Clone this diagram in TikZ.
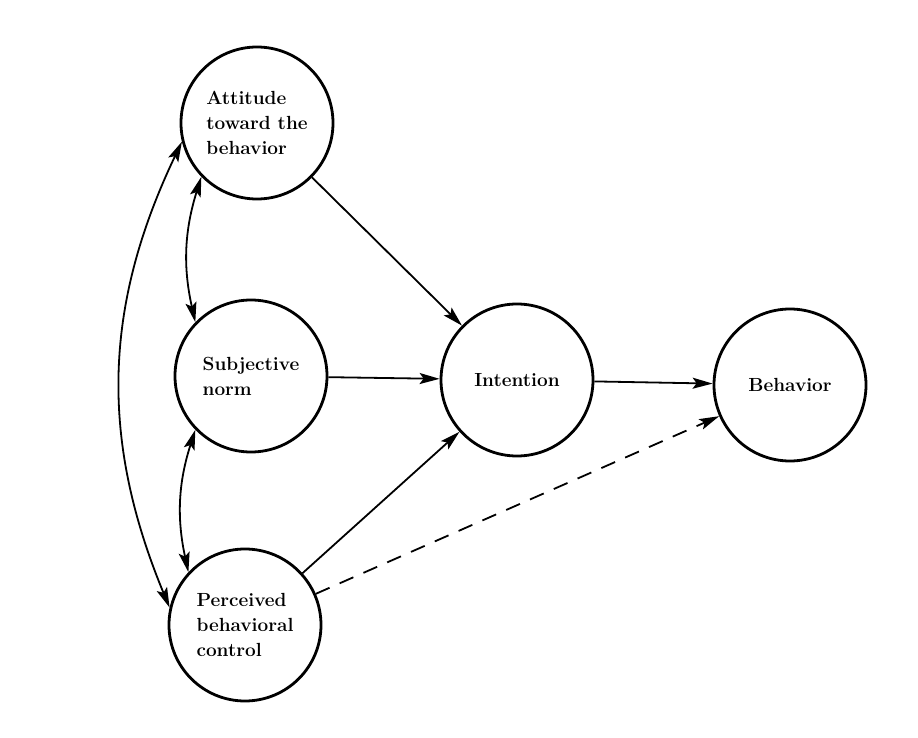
\documentclass[tikz,border=0pt]{standalone}
\usepackage{tikz}
\usetikzlibrary{arrows.meta}

\begin{document}
\begin{tikzpicture}[
    x=1pt, y=1pt,
every node/.style = {inner sep=2pt},
  construct/.style = {circle,draw,line width=2.8pt,minimum size=152pt,
                      align=left,font=\fontsize{19}{25}\selectfont\bfseries},
       link/.style = {line width=1.8pt,
                      -{Stealth[length=20pt,width=11pt,inset=4pt]}},
       corr/.style = {line width=1.8pt,
                      {Stealth[length=20pt,width=11pt,inset=4pt]}-{Stealth[length=20pt,width=11pt,inset=4pt]}}]
\useasboundingbox (0,0) rectangle (918,737);

\node[construct] (att) at (257,614) {Attitude\\toward the\\behavior};
\node[construct] (sn)  at (251,361) {Subjective\\norm};
\node[construct] (pbc) at (245,112) {Perceived\\behavioral\\control};

\node[construct] (int) at (517,357) {Intention};
\node[construct] (beh) at (790,352) {Behavior};

% paths into intention and behavior
\draw[link] (att) -- (int);
\draw[link] (sn)  -- (int);
\draw[link] (pbc) -- (int);
\draw[link] (int) -- (beh);
\draw[link,dash pattern=on 15pt off 11pt] (pbc) -- (beh);

% correlations among the three antecedents
\draw[corr] (att.224) to[bend right=15] (sn.136);
\draw[corr] (sn.224)  to[bend right=15] (pbc.137);
\draw[corr] (att.194) to[bend right=24] (pbc.167);
\end{tikzpicture}
\end{document}
